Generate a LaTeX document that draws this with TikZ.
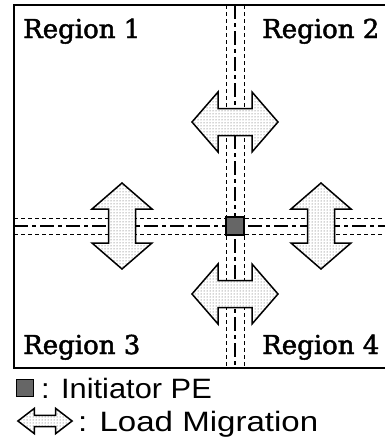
\documentclass[tikz,border=0pt]{standalone}
\usepackage{fontspec}
\newfontfamily\regfont[FakeBold=1.8]{DejaVu Serif}
\newfontfamily\legfont{Liberation Sans}
\usetikzlibrary{patterns}

\newcommand{\legtext}[2][1.1]{\scalebox{#1}[1]{#2}}

\begin{document}
\begin{tikzpicture}[x=1pt,y=-1pt,
    road/.style={line width=2pt,dash pattern=on 14pt off 4pt on 4pt off 4pt},
    roadside/.style={line width=0.8pt,dash pattern=on 4pt off 3pt},
    region/.style={font=\regfont\fontsize{26}{30}\selectfont,inner sep=0pt,anchor=base west},
    legend/.style={font=\legfont\fontsize{28}{30}\selectfont,inner sep=0pt,anchor=base west},
    migr/.pic={
        \draw[line width=1.5pt,preaction={fill=white},pattern=dots,pattern color=black!70]
            (-43,0) -- (-17,-30) -- (-17,-13.5) -- (17,-13.5) -- (17,-30) -- (43,0)
            -- (17,30) -- (17,13.5) -- (-17,13.5) -- (-17,30) -- cycle;
    }]
    \useasboundingbox (0,0) rectangle (385,447);

    \coordinate (VT) at (235,5);
    \coordinate (VB) at (235,368);
    \coordinate (HL) at (14,226);
    \coordinate (HR) at (385,226);

    % roads
    \draw[road] (VT) -- (VB);
    \draw[roadside] ([xshift=-9pt]VT) -- ([xshift=-9pt]VB);
    \draw[roadside] ([xshift=9pt]VT) -- ([xshift=9pt]VB);
    \draw[road] (HL) -- (HR);
    \draw[roadside] ([yshift=-8pt]HL) -- ([yshift=-8pt]HR);
    \draw[roadside] ([yshift=8pt]HL) -- ([yshift=8pt]HR);

    \node[draw,line width=1.5pt,fill=black!60,minimum size=18pt,inner sep=0pt] (init) at (235,226) {};

    %############################################

    \pic (mig1) at (235,122) {migr};
    \pic (mig4) at (235,294) {migr};
    \pic[rotate=90] (mig2) at (122,226) {migr};
    \pic[rotate=90] (mig3) at (321,226) {migr};

    \node[region] (r1) at (23,38) {Region 1};
    \node[region] (r2) at (262,38) {Region 2};
    \node[region] (r3) at (23,354) {Region 3};
    \node[region] (r4) at (262,354) {Region 4};

    \coordinate (TR) at (385,5);
    \coordinate (TL) at (14,5);
    \coordinate (BL) at (14,368);
    \coordinate (BR) at (385,368);
    \draw[line width=1.8pt] (TR) -- (TL) -- (BL) -- (BR);

    %############################################

    \node[draw,line width=1.2pt,fill=black!60,minimum size=17pt,inner sep=0pt] (keyinit) at (25,388) {};
    \node[legend] (txtinit) at (41,398) {\legtext{: Initiator PE}};
    \pic[xscale=0.63,yscale=0.42] (keymig) at (45,421) {migr};
    \node[legend] (txtmig) at (78,431) {\legtext[1.18]{: Load Migration}};
\end{tikzpicture}
\end{document}
